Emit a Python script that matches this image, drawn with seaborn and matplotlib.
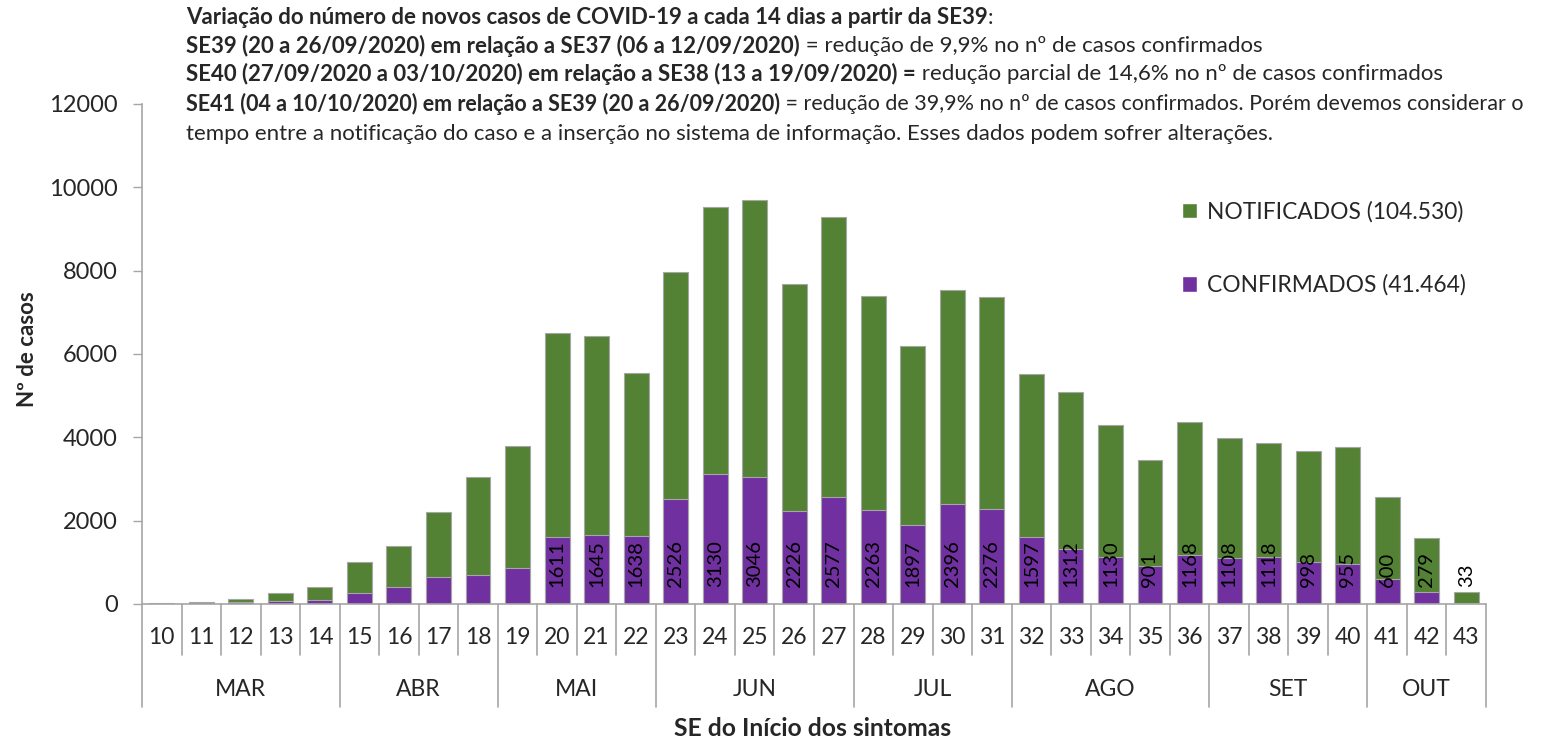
import matplotlib
matplotlib.use("Agg")
import matplotlib.pyplot as plt
from matplotlib.patches import Patch
import seaborn as sns
import pandas as pd

semanas = [str(s) for s in range(10, 44)]
notificados = [30, 60, 130, 260, 420, 1000, 1390, 2220, 3060, 3800,
               6500, 6430, 5550, 7960, 9540, 9690, 7670, 9280, 7390, 6200,
               7540, 7360, 5530, 5080, 4290, 3460, 4370, 3980, 3860, 3670,
               3770, 2570, 1580, 290]
confirmados = [3, 10, 40, 65, 96, 256, 400, 640, 704, 872,
               1611, 1645, 1638, 2526, 3130, 3046, 2226, 2577, 2263, 1897,
               2396, 2276, 1597, 1312, 1130, 901, 1168, 1108, 1118, 998,
               955, 600, 279, 33]
meses = ["MAR", "ABR", "MAI", "JUN", "JUL", "AGO", "SET", "OUT"]
semanas_por_mes = [5, 4, 4, 5, 4, 5, 4, 3]
primeira_rotulada = "20"
legenda = ["NOTIFICADOS (104.530)", "CONFIRMADOS (41.464)"]

VERDE = "#548235"
ROXO = "#7030A0"
CINZA = "#a6a6a6"

df = pd.DataFrame({"SE": semanas, "NOTIFICADOS": notificados, "CONFIRMADOS": confirmados})

sns.set_style("white")
plt.rcParams["font.family"] = ["Lato", "DejaVu Sans"]

fig = plt.figure(figsize=(15.61, 7.41), dpi=100)
W, H = 1561, 741
ax = fig.add_axes([142 / W, 1 - 604 / H, (1486 - 142) / W, 500 / H])

sns.barplot(data=df, x="SE", y="NOTIFICADOS", order=semanas, color=VERDE,
            saturation=1, width=0.63, edgecolor=CINZA, linewidth=0.8, ax=ax)
sns.barplot(data=df, x="SE", y="CONFIRMADOS", order=semanas, color=ROXO,
            saturation=1, width=0.63, edgecolor=CINZA, linewidth=0.8, ax=ax)

ax.set_xlim(-0.5, len(semanas) - 0.5)
ax.set_ylim(0, 12000)
ax.set_yticks(range(0, 12001, 2000))
ax.tick_params(axis="y", labelsize=17, length=6.5, color=CINZA, width=1, direction="out", left=True, pad=11)
ax.set_xticks([])
ax.set_xlabel("")
ax.set_ylabel("")
for s in ["top", "right"]:
    ax.spines[s].set_visible(False)
for s in ["left", "bottom"]:
    ax.spines[s].set_color(CINZA)
    ax.spines[s].set_linewidth(1.2)

# data labels
start = semanas.index(primeira_rotulada)
for i in range(start, len(semanas)):
    ax.text(i, 400, str(confirmados[i]), rotation=90, ha="center", va="bottom",
            fontsize=14.5, color="black")

# multi-level category axis
tr = ax.get_xaxis_transform()
y_sem_line = -(655 - 604) / 500
y_mes_line = -(707 - 604) / 500
for i, s in enumerate(semanas):
    ax.text(i, -(638 - 604) / 500, s, transform=tr, ha="center", va="center", fontsize=16.5)
bounds = [0]
for n in semanas_por_mes:
    bounds.append(bounds[-1] + n)
for k in range(len(semanas) + 1):
    yb = y_mes_line if k in bounds else y_sem_line
    ax.plot([k - 0.5, k - 0.5], [0, yb], transform=tr, color=CINZA, lw=1.2, clip_on=False)
for m, a, b in zip(meses, bounds[:-1], bounds[1:]):
    ax.text((a + b - 1) / 2, -(690 - 604) / 500, m, transform=tr, ha="center", va="center", fontsize=16.5)

# axis titles
fig.text(27 / W, 1 - 349 / H, "Nº de casos", rotation=90, ha="center", va="center",
         fontsize=16, fontweight="bold")
fig.text(813 / W, 1 - 728 / H, "SE do Início dos sintomas", ha="center", va="center",
         fontsize=17.7, fontweight="bold")

# legend
handles = [Patch(facecolor=VERDE), Patch(facecolor=ROXO)]
ax.legend(handles, legenda, loc="upper left", bbox_to_anchor=(1182 / W, 1 - 201 / H),
          bbox_transform=fig.transFigure, frameon=False, fontsize=16.4,
          handlelength=0.68, handleheight=0.68, handletextpad=0.4, labelspacing=2.27,
          borderaxespad=0, borderpad=0)

# annotation block
linhas = [
    ("Variação do número de novos casos de COVID-19 a cada 14 dias a partir da SE39", ":"),
    ("SE39 (20 a 26/09/2020) em relação a SE37 (06 a 12/09/2020)", " = redução de 9,9% no nº de casos confirmados"),
    ("SE40 (27/09/2020 a 03/10/2020) em relação a SE38 (13 a 19/09/2020) =", " redução parcial de 14,6% no nº de casos confirmados"),
    ("SE41 (04 a 10/10/2020) em relação a SE39 (20 a 26/09/2020)", " = redução de 39,9% no nº de casos confirmados. Porém devemos considerar o"),
    ("", "tempo entre a notificação do caso e a inserção no sistema de informação. Esses dados podem sofrer alterações."),
]
ys = [18, 46, 74, 104, 134]
tamanhos = [16, 16, 16, 15.5, 16]
for (b, r), yy, FS in zip(linhas, ys, tamanhos):
    x0 = 186 / W
    y0 = 1 - yy / H
    if b:
        tb = fig.text(x0, y0, b, fontsize=FS, fontweight="bold", ha="left", va="center")
        ax.annotate(r, xy=(1, 0.5), xycoords=tb, ha="left", va="center", fontsize=FS,
                    annotation_clip=False)
    else:
        fig.text(x0, y0, r, fontsize=FS, ha="left", va="center")

fig.savefig("out.png", dpi=100)
